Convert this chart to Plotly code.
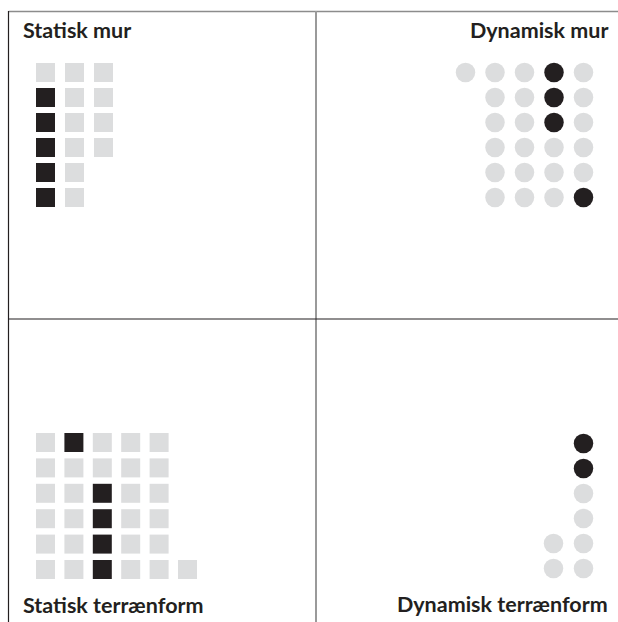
import plotly.graph_objects as go

W, H = 618, 622

# ---- data: each column listed top-to-bottom, 1 = black (active), 0 = grey ----
statisk_mur = [
    [0, 1, 1, 1, 1, 1],
    [0, 0, 0, 0, 0, 0],
    [0, 0, 0, 0],
]
dynamisk_mur = [
    [0],
    [0, 0, 0, 0, 0, 0],
    [0, 0, 0, 0, 0, 0],
    [1, 1, 1, 0, 0, 0],
    [0, 0, 0, 0, 0, 1],
]
statisk_terraenform = [
    [0, 0, 0, 0, 0, 0],
    [1, 0, 0, 0, 0, 0],
    [0, 0, 1, 1, 1, 1],
    [0, 0, 0, 0, 0, 0],
    [0, 0, 0, 0, 0, 0],
    [0],
]
dynamisk_terraenform = [
    [0, 0],
    [1, 1, 0, 0, 0, 0],
]
titles = ["Statisk mur", "Dynamisk mur", "Statisk terrænform", "Dynamisk terrænform"]

GREY = "#DCDDDE"
BLACK = "#231F20"

# panel layout: (data, symbol, align, x-origin px, x pitch, y-origin px (row 0 center), y pitch)
panels = [
    (statisk_mur, "square", "top", 45.5, 29.0, 72.5, 25.0),
    (dynamisk_mur, "circle", "top", 465.5, 29.5, 72.5, 25.0),
    (statisk_terraenform, "square", "bottom", 45.5, 28.4, 569.5, 25.4),
    (dynamisk_terraenform, "circle", "bottom", 553.5, 30.0, 568.5, 25.0),
]

fig = go.Figure()

for p, (data, symbol, align, x0, dx, y0, dy) in enumerate(panels):
    xs, ys, cs = [], [], []
    for ci, col in enumerate(data):
        n = len(col)
        for k, v in enumerate(col):
            row = k if align == "top" else n - 1 - k
            xs.append(ci)
            ys.append(row)
            cs.append(BLACK if v else GREY)
    idx = "" if p == 0 else str(p + 1)
    fig.add_trace(go.Scatter(
        x=xs, y=ys, mode="markers",
        marker=dict(symbol=symbol, size=19.5 if symbol == "circle" else 19,
                    color=cs, line=dict(width=0)),
        xaxis="x" + idx, yaxis="y" + idx, hoverinfo="skip", showlegend=False,
    ))
    xa = -x0 / dx
    xb = xa + W / dx
    if align == "top":
        ya_top = -y0 / dy
        yrange = [ya_top + H / dy, ya_top]
    else:
        y_bottom = -(H - y0) / dy
        yrange = [y_bottom, y_bottom + H / dy]
    axis_common = dict(visible=False, showgrid=False, zeroline=False, fixedrange=True)
    xkw = dict(range=[xa, xb], domain=[0, 1], anchor="y" + idx, **axis_common)
    ykw = dict(range=yrange, domain=[0, 1], anchor="x" + idx, **axis_common)
    if p > 0:
        xkw["overlaying"] = "x"
        ykw["overlaying"] = "y"
    fig.update_layout(**{"xaxis" + idx: xkw, "yaxis" + idx: ykw})


def px(x):
    return x / W


def py(y):
    return 1 - y / H


shapes = [
    dict(type="line", xref="paper", yref="paper", x0=px(8.5), x1=px(618), y0=py(11.5), y1=py(11.5),
         line=dict(color="#8C8C8C", width=1.5)),
    dict(type="line", xref="paper", yref="paper", x0=px(8.5), x1=px(8.5), y0=py(11), y1=py(622),
         line=dict(color=BLACK, width=1.2)),
    dict(type="line", xref="paper", yref="paper", x0=px(316), x1=px(316), y0=py(11), y1=py(622),
         line=dict(color="#9A9A9A", width=2)),
    dict(type="line", xref="paper", yref="paper", x0=px(8.5), x1=px(618), y0=py(319), y1=py(319),
         line=dict(color=BLACK, width=1.2)),
]

FONT = dict(family="Lato, 'Open Sans', sans-serif", size=21.5, color=BLACK)
title_pos = [(22, 39, "left"), (609, 39, "right"), (22, 614, "left"), (609, 613, "right")]
annotations = []
for t, (x, yb, anchor) in zip(titles, title_pos):
    annotations.append(dict(
        text="<b>" + t + "</b>", xref="paper", yref="paper", x=px(x), y=py(yb + 5),
        xanchor=anchor, yanchor="bottom", showarrow=False, font=FONT,
        borderpad=0,
    ))

fig.update_layout(
    width=W, height=H, margin=dict(l=0, r=0, t=0, b=0),
    paper_bgcolor="white", plot_bgcolor="rgba(0,0,0,0)",
    shapes=shapes, annotations=annotations,
)

fig.write_html(
    "out.html",
    config={"displayModeBar": False, "staticPlot": True},
    post_script="document.body.style.margin='0px';document.body.style.overflow='hidden';",
)
